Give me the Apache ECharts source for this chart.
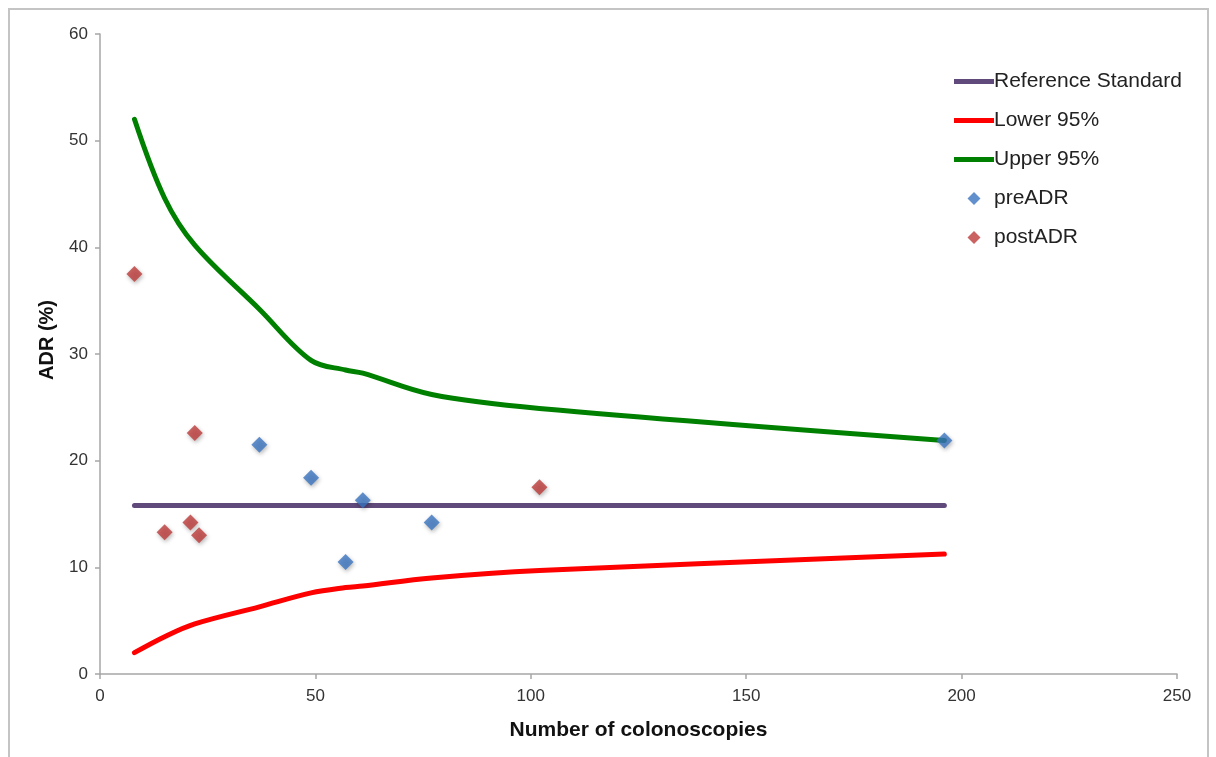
<!DOCTYPE html>
<html>
<head>
<meta charset="utf-8">
<script src="https://cdn.jsdelivr.net/npm/echarts@6/dist/echarts.min.js"></script>
<style>
html,body{margin:0;padding:0;background:#fff;}
#chart{width:1216px;height:757px;}
</style>
</head>
<body>
<div id="chart"></div>
<script>
// ---- data ----
const xTicks = [0, 50, 100, 150, 200, 250];
const yTicks = [0, 10, 20, 30, 40, 50, 60];
const refN = [8, 196];
const refADR = [15.8, 15.8];
const curveN = [8, 15, 22, 37, 49, 57, 61, 77, 102, 196];
const lower95 = [2.0, 3.5, 4.7, 6.3, 7.6, 8.1, 8.25, 9.0, 9.7, 11.25];
const upper95 = [52.0, 44.6, 40.2, 34.2, 29.4, 28.5, 28.2, 26.2, 24.9, 21.9];
const preN = [37, 49, 57, 61, 77, 196];
const preADR = [21.5, 18.4, 10.5, 16.3, 14.2, 21.9];
const postN = [8, 15, 21, 22, 23, 102];
const postADR = [37.5, 13.3, 14.2, 22.6, 13.0, 17.5];

const zip = (a, b) => a.map((v, i) => [v, b[i]]);
const font = 'Liberation Sans, Arial, Helvetica, sans-serif';

const lineIcon = 'path://M0,0 M40,14 M0,4.5 L40,4.5 L40,9.5 L0,9.5 Z';
const diamondIcon = 'path://M0,0 M40,14 M20,0.5 L26.5,7 L20,13.5 L13.5,7 Z';

const chart = echarts.init(document.getElementById('chart'), null, {renderer: 'canvas'});
const diamondShadow = {shadowBlur: 4, shadowOffsetX: 1, shadowOffsetY: 2, shadowColor: 'rgba(0,0,0,0.35)'};

chart.setOption({
  animation: false,
  backgroundColor: '#ffffff',
  textStyle: {fontFamily: font},
  graphic: [{
    type: 'rect', z: -10, silent: true,
    shape: {x: 9, y: 9, width: 1199, height: 790},
    style: {fill: 'none', stroke: '#c4c4c4', lineWidth: 2}
  }],
  grid: {left: 100, right: 39, top: 34, bottom: 83, containLabel: false},
  legend: {
    orient: 'vertical', left: 949, top: 66,
    itemWidth: 40, itemHeight: 14, itemGap: 18,
    textStyle: {fontFamily: font, fontSize: 21, color: '#222', padding: [0, 0, 0, -5]},
    data: [
      {name: 'Reference Standard', icon: lineIcon},
      {name: 'Lower 95%', icon: lineIcon},
      {name: 'Upper 95%', icon: lineIcon},
      {name: 'preADR', icon: diamondIcon},
      {name: 'postADR', icon: diamondIcon}
    ]
  },
  xAxis: {
    type: 'value', min: 0, max: 250, interval: 50,
    name: 'Number of colonoscopies', nameLocation: 'middle', nameGap: 46,
    nameTextStyle: {fontFamily: font, fontSize: 21, fontWeight: 'bold', color: '#111'},
    axisLine: {show: true, lineStyle: {color: '#a6a6a6', width: 1.5}},
    axisTick: {show: true, length: 5, lineStyle: {color: '#a6a6a6', width: 1.5}},
    axisLabel: {fontFamily: font, fontSize: 17, color: '#333', margin: 14,
      formatter: v => xTicks.includes(v) ? String(v) : ''},
    splitLine: {show: false}
  },
  yAxis: {
    type: 'value', min: 0, max: 60, interval: 10,
    name: 'ADR (%)', nameLocation: 'middle', nameGap: 43, nameRotate: 90,
    nameTextStyle: {fontFamily: font, fontSize: 20, fontWeight: 'bold', color: '#111', padding: [0, 0, 0, 28]},
    axisLine: {show: true, lineStyle: {color: '#a6a6a6', width: 1.5}},
    axisTick: {show: true, length: 5, lineStyle: {color: '#a6a6a6', width: 1.5}},
    axisLabel: {fontFamily: font, fontSize: 17, color: '#333', margin: 12,
      formatter: v => yTicks.includes(v) ? String(v) : ''},
    splitLine: {show: false}
  },
  series: [
    {
      name: 'Reference Standard', type: 'line', data: zip(refN, refADR),
      showSymbol: false, symbol: 'none', z: 2,
      color: '#604a7b', itemStyle: {color: '#604a7b'},
      lineStyle: {color: '#604a7b', width: 5, cap: 'round'}
    },
    {
      name: 'Lower 95%', type: 'line', data: zip(curveN, lower95),
      showSymbol: false, symbol: 'none', smooth: 0.35, z: 2,
      color: '#ff0000', itemStyle: {color: '#ff0000'},
      lineStyle: {color: '#ff0000', width: 5, cap: 'round'}
    },
    {
      name: 'Upper 95%', type: 'line', data: zip(curveN, upper95),
      showSymbol: false, symbol: 'none', smooth: 0.35, z: 2,
      color: '#008000', itemStyle: {color: '#008000'},
      lineStyle: {color: '#008000', width: 5, cap: 'round'}
    },
    {
      name: 'preADR', type: 'scatter', data: zip(preN, preADR),
      symbol: 'diamond', symbolSize: 16, z: 5,
      itemStyle: Object.assign({color: '#3a74c0'}, diamondShadow)
    },
    {
      name: 'postADR', type: 'scatter', data: zip(postN, postADR),
      symbol: 'diamond', symbolSize: 16, z: 5,
      itemStyle: Object.assign({color: '#bb3b38'}, diamondShadow)
    }
  ]
});
</script>
</body>
</html>
